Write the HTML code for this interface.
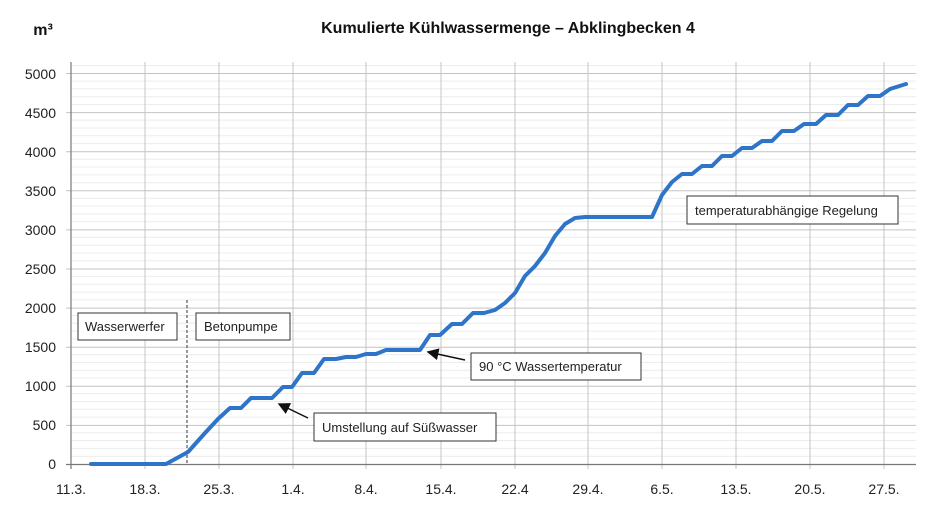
<!DOCTYPE html>
<html><head><meta charset="utf-8"><style>body{margin:0;background:#fff}svg{display:block;font-family:"Liberation Sans",sans-serif}</style></head><body>
<svg width="935" height="512" xmlns="http://www.w3.org/2000/svg">
<defs><marker id="ah" markerWidth="8" markerHeight="8" refX="7" refY="4" orient="auto"><path d="M0,0L8,4L0,8z" fill="#111"/></marker></defs>
<text x="43" y="35" font-size="16" font-weight="bold" text-anchor="middle" fill="#111">m³</text>
<text x="508" y="33" font-size="16" font-weight="bold" text-anchor="middle" fill="#111">Kumulierte Kühlwassermenge – Abklingbecken 4</text>
<g stroke="#ececec">
<path d="M71,456.2H916M71,448.4H916M71,440.5H916M71,432.7H916M71,417.1H916M71,409.3H916M71,401.5H916M71,393.6H916M71,378H916M71,370.2H916M71,362.4H916M71,354.6H916M71,339H916M71,331.1H916M71,323.3H916M71,315.5H916M71,299.9H916M71,292.1H916M71,284.2H916M71,276.4H916M71,260.8H916M71,253H916M71,245.2H916M71,237.4H916M71,221.7H916M71,213.9H916M71,206.1H916M71,198.3H916M71,182.7H916M71,174.9H916M71,167H916M71,159.2H916M71,143.6H916M71,135.8H916M71,128H916M71,120.1H916M71,104.5H916M71,96.7H916M71,88.9H916M71,81.1H916M71,65.5H916"/>
</g>
<g stroke="#c4c4c4">
<path d="M66,425.4H916M66,386.3H916M66,347.2H916M66,308.1H916M66,269H916M66,229.9H916M66,190.8H916M66,151.7H916M66,112.6H916M66,73.5H916"/>
<path d="M145,62V469M219,62V469M293,62V469M366,62V469M441,62V469M515,62V469M588,62V469M662,62V469M736,62V469M810,62V469M884,62V469"/>
</g>
<path d="M71,62V469M66,464.5H916M71,464V469" stroke="#777" stroke-width="1.2"/>
<g font-size="14" fill="#222" text-anchor="end">
<text x="56" y="469">0</text><text x="56" y="430">500</text><text x="56" y="391">1000</text><text x="56" y="352">1500</text><text x="56" y="313">2000</text><text x="56" y="274">2500</text><text x="56" y="235">3000</text><text x="56" y="196">3500</text><text x="56" y="157">4000</text><text x="56" y="118">4500</text><text x="56" y="79">5000</text>
</g>
<g font-size="14" fill="#222" text-anchor="middle">
<text x="71" y="494">11.3.</text><text x="145" y="494">18.3.</text><text x="219" y="494">25.3.</text><text x="293" y="494">1.4.</text><text x="366" y="494">8.4.</text><text x="441" y="494">15.4.</text><text x="515" y="494">22.4</text><text x="588" y="494">29.4.</text><text x="662" y="494">6.5.</text><text x="736" y="494">13.5.</text><text x="810" y="494">20.5.</text><text x="884" y="494">27.5.</text>
</g>
<path d="M187,300V464" stroke="#333" stroke-dasharray="3,2" stroke-width="1"/>
<polyline fill="none" stroke="#2e74c9" stroke-width="4" stroke-linejoin="round" stroke-linecap="round" points="91,464 166,464 188,452 205,433 218,419 230,408 241,408 251,398 272,398 283,387 292,387 302,373 314,373 324,359 336,359 346,357 356,357 366,354 376,354 386,350 420,350 430,335 440,335 452,324 462,324 473,313 484,313 495,310 505,303 515,293 525,276 535,266 545,253 555,236 565,224 575,218 585,217 652,217 662,195 672,182 682,174 692,174 702,166 712,166 722,156 732,156 742,148 752,148 762,141 772,141 782,131 794,131 804,124 816,124 826,115 838,115 848,105 858,105 868,96 880,96 890,89 906,84"/>
<g fill="#fff" stroke="#333" stroke-width="1">
<rect x="78" y="313" width="99" height="27"/><rect x="196" y="313" width="94" height="27"/><rect x="314" y="413" width="182" height="28"/><rect x="471" y="353" width="170" height="27"/><rect x="687" y="196" width="211" height="28"/>
</g>
<g font-size="13" fill="#222">
<text x="85" y="331">Wasserwerfer</text><text x="204" y="331">Betonpumpe</text><text x="322" y="432">Umstellung auf Süßwasser</text><text x="479" y="371">90 °C Wassertemperatur</text><text x="695" y="215">temperaturabhängige Regelung</text>
</g>
<path d="M308,418L279,404" stroke="#111" stroke-width="1.5" marker-end="url(#ah)"/>
<path d="M465,360L428,352" stroke="#111" stroke-width="1.5" marker-end="url(#ah)"/>
</svg>
</body></html>
